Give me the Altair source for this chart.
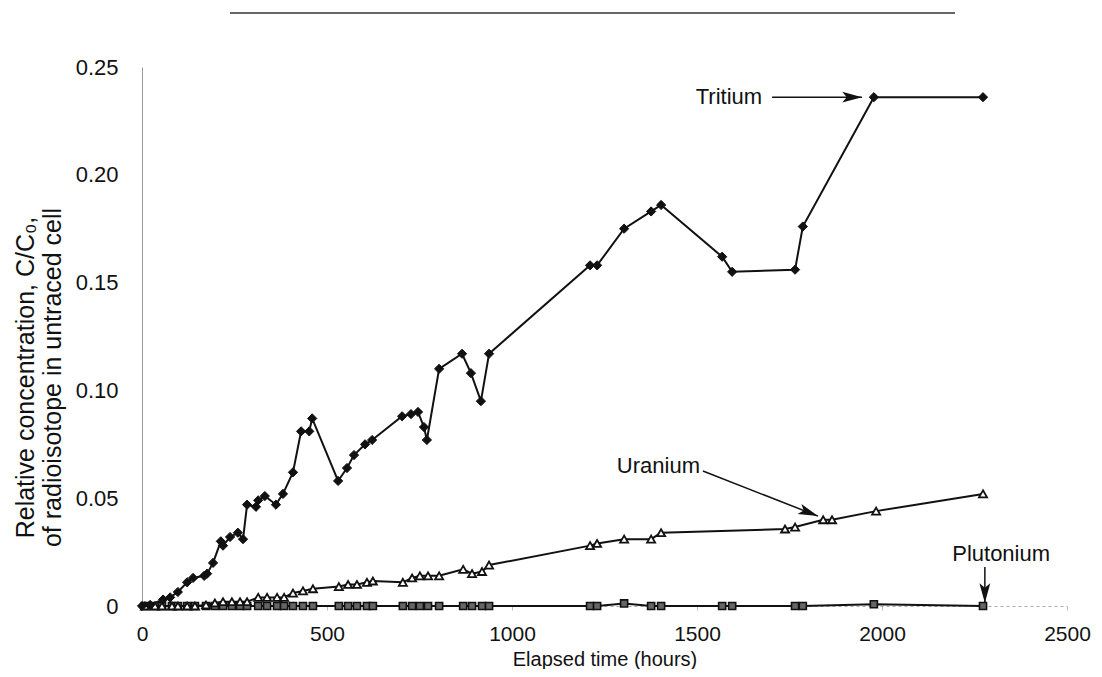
import altair as alt
import pandas as pd

# ---------------- data ----------------
t_hours = [0, 22, 57, 76, 97, 122, 138, 168, 176, 192, 213, 219, 238, 259, 273,
           284, 308, 314, 332, 362, 381, 408, 430, 452, 460, 530, 554, 573, 603,
           622, 703, 727, 746, 762, 770, 803, 865, 889, 916, 938, 1211, 1230,
           1303, 1376, 1403, 1568, 1595, 1765, 1786, 1978, 2273]
t_vals = [0, 0.0005, 0.003, 0.004, 0.0065, 0.011, 0.013, 0.014, 0.015, 0.020,
          0.030, 0.028, 0.032, 0.034, 0.031, 0.047, 0.046, 0.049, 0.051, 0.047,
          0.052, 0.062, 0.081, 0.081, 0.087, 0.058, 0.064, 0.070, 0.075, 0.077,
          0.088, 0.089, 0.090, 0.083, 0.077, 0.110, 0.117, 0.108, 0.095, 0.117,
          0.158, 0.158, 0.175, 0.183, 0.186, 0.162, 0.155, 0.156, 0.176, 0.236,
          0.236]

u_hours = [8, 35, 54, 81, 97, 122, 143, 173, 197, 219, 243, 265, 284, 314, 338,
           365, 384, 408, 435, 462, 532, 557, 581, 608, 624, 705, 730, 751, 773,
           803, 868, 892, 919, 938, 1211, 1230, 1303, 1376, 1403, 1738, 1765,
           1841, 1865, 1984, 2273]
u_vals = [0, 0, 0, 0, 0, 0, 0, 0.0005, 0.0014, 0.002, 0.002, 0.002, 0.002,
          0.004, 0.004, 0.004, 0.004, 0.006, 0.007, 0.008, 0.009, 0.010, 0.010,
          0.011, 0.0116, 0.011, 0.013, 0.014, 0.014, 0.014, 0.017, 0.015, 0.016,
          0.019, 0.028, 0.029, 0.031, 0.031, 0.034, 0.0357, 0.0366, 0.040,
          0.040, 0.044, 0.052]

p_hours = [8, 35, 54, 81, 97, 122, 143, 173, 197, 219, 243, 265, 284, 314, 338,
           365, 384, 408, 435, 462, 532, 557, 581, 608, 624, 705, 730, 751, 773,
           803, 868, 892, 919, 938, 1211, 1230, 1303, 1376, 1403, 1568, 1595,
           1765, 1786, 1978, 2273]
p_vals = [0] * 36 + [0.0012, 0, 0, 0, 0, 0, 0, 0.0008, 0]

x_ticks = [0, 500, 1000, 1500, 2000, 2500]
y_ticks = [0, 0.05, 0.10, 0.15, 0.20, 0.25]

# annotations (label text, anchor in data units, arrow start / end)
ann_text = ["Tritium", "Uranium", "Plutonium"]
ann_tx = [1676, 1508, 2322]
ann_ty = [0.236, 0.065, 0.0241]
ann_align = ["right", "right", "center"]
arr_x1 = [1703, 1516, 2278]
arr_y1 = [0.236, 0.0626, 0.0181]
arr_x2 = [1946, 1827, 2278]
arr_y2 = [0.236, 0.0417, 0.0014]
arr_angle = [0, 21, 90]

FONT = "Liberation Sans"

df_t = pd.DataFrame({"h": t_hours, "v": t_vals, "i": range(len(t_hours))})
df_u = pd.DataFrame({"h": u_hours, "v": u_vals, "i": range(len(u_hours))})
df_p = pd.DataFrame({"h": p_hours, "v": p_vals, "i": range(len(p_hours))})
df_ann = pd.DataFrame({"text": ann_text, "x": ann_tx, "y": ann_ty, "align": ann_align})
df_arr = pd.DataFrame({"x1": arr_x1, "y1": arr_y1, "x2": arr_x2, "y2": arr_y2,
                       "angle": arr_angle})

xs = alt.Scale(domain=[0, 2500], nice=False)
ys = alt.Scale(domain=[0, 0.25], nice=False)

x_enc = alt.X("h:Q", scale=xs, axis=alt.Axis(
    values=x_ticks, format="d", title="Elapsed time (hours)", labelFontSize=21,
    titleFontSize=20, titleFontWeight="normal", labelFont=FONT, titleFont=FONT,
    labelColor="#111", titleColor="#111", grid=False,
    domainColor="#aaa", domainDash=[3, 3], tickColor="#bbb", tickSize=4,
    labelPadding=13, titleY=59, titleBaseline="alphabetic", labelFlush=False))
y_enc = alt.Y("v:Q", scale=ys, axis=alt.Axis(
    values=y_ticks, labelExpr="datum.value == 0 ? '0' : format(datum.value, '.2f')",
    title=["Relative concentration, C/C\u2080,", "of radioisotope in untraced cell"],
    labelFontSize=22, titleFontSize=25, titleFontWeight="normal",
    labelFont=FONT, titleFont=FONT, labelColor="#111", titleColor="#111",
    grid=False, domainColor="#999", domainWidth=1, ticks=False,
    labelPadding=24, titlePadding=10, titleLineHeight=27, titleY=310))


def series(df, shape, size, fill, stroke, sw):
    line = alt.Chart(df).mark_line(color="#111", strokeWidth=2).encode(
        x=x_enc, y=y_enc, order="i:Q")
    pts = alt.Chart(df).mark_point(shape=shape, size=size, filled=False,
                                   fill=fill, stroke=stroke, strokeWidth=sw,
                                   opacity=1, fillOpacity=1).encode(
        x=alt.X("h:Q", scale=xs), y=alt.Y("v:Q", scale=ys))
    return line + pts


tri = series(df_t, "diamond", 85, "#111", "#111", 1)
ura = series(df_u, "triangle-up", 65, "white", "#111", 1.8)
plu = series(df_p, "square", 50, "#666", "#111", 1.6)

lab_r = alt.Chart(df_ann[df_ann["align"] == "right"]).mark_text(
    font=FONT, fontSize=22, color="#111", baseline="middle", align="right").encode(
    x=alt.X("x:Q", scale=xs), y=alt.Y("y:Q", scale=ys), text="text:N")
lab_c = alt.Chart(df_ann[df_ann["align"] == "center"]).mark_text(
    font=FONT, fontSize=22, color="#111", baseline="middle", align="center").encode(
    x=alt.X("x:Q", scale=xs), y=alt.Y("y:Q", scale=ys), text="text:N")

arr_lines = alt.Chart(df_arr).mark_rule(color="#111", strokeWidth=1.5).encode(
    x=alt.X("x1:Q", scale=xs), y=alt.Y("y1:Q", scale=ys),
    x2="x2:Q", y2="y2:Q")
arr_heads = alt.Chart(df_arr).mark_point(
    shape="M0,0 L-2.2,-0.6 L-1.7,0 L-2.2,0.6 Z", size=324, filled=True,
    color="#111", opacity=1).encode(
    x=alt.X("x2:Q", scale=xs), y=alt.Y("y2:Q", scale=ys),
    angle=alt.Angle("angle:Q", scale=None))

header = alt.Chart(df_ann.head(1)).mark_rule(color="#333", strokeWidth=1.5).encode(
    x=alt.value(88), x2=alt.value(813), y=alt.value(-54))

chart = alt.layer(plu, ura, tri, arr_lines, arr_heads, lab_r, lab_c, header).properties(
    width=925, height=539,
    autosize=alt.AutoSizeParams(type="none"),
    padding={"left": 134, "top": 59, "right": 27, "bottom": 63},
    background="white",
).configure_view(stroke=None)

chart.save("out.html", embed_options={"renderer": "svg", "actions": False})
